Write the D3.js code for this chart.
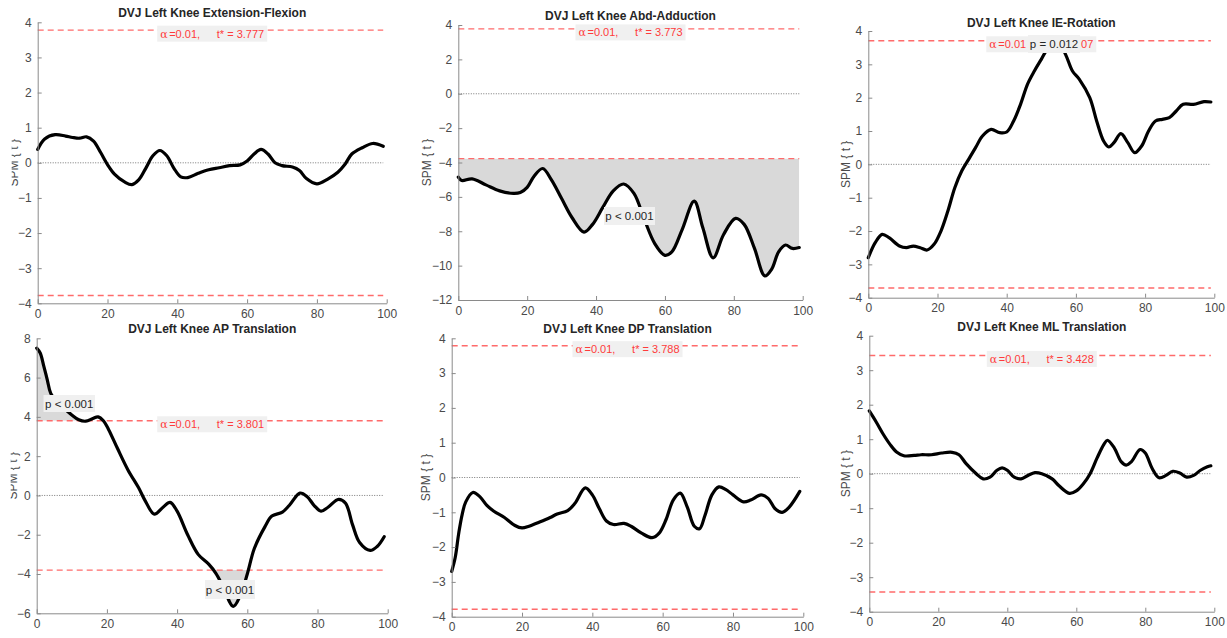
<!DOCTYPE html>
<html><head><meta charset="utf-8">
<script src="https://cdn.jsdelivr.net/npm/d3@7"></script>
<style>body{margin:0;background:#fff}svg{display:block}</style>
</head><body><svg id="c" width="1227" height="638"></svg>
<script>
// ---------- DATA ----------
const titles = ["DVJ Left Knee Extension-Flexion","DVJ Left Knee Abd-Adduction","DVJ Left Knee IE-Rotation",
                "DVJ Left Knee AP Translation","DVJ Left Knee DP Translation","DVJ Left Knee ML Translation"];
const thresholds = [3.777, 3.773, 3.707, 3.801, 3.788, 3.428];
const alphaLevel = "0.01";
const yDomains = [[-4,4],[-12,4],[-4,4],[-6,8],[-4,4],[-4,4]];
const yTicks = [[-4,-3,-2,-1,0,1,2,3,4],[-12,-10,-8,-6,-4,-2,0,2,4],[-4,-3,-2,-1,0,1,2,3,4],
                [-6,-4,-2,0,2,4,6,8],[-4,-3,-2,-1,0,1,2,3,4],[-4,-3,-2,-1,0,1,2,3,4]];
const xTicks = [0,20,40,60,80,100];
const yLabel = "SPM { t }";

const extFlex = [[0,0.38],[2,0.68],[5,0.8],[8,0.76],[10,0.72],[12,0.7],[14,0.74],[16,0.62],[18,0.3],[20,-0.05],[22,-0.32],[25,-0.55],[27,-0.62],[29,-0.48],[31,-0.15],[33,0.2],[35,0.35],[37,0.2],[39,-0.15],[41,-0.4],[43,-0.42],[46,-0.3],[49,-0.2],[52,-0.14],[55,-0.08],[58,-0.06],[60,0.05],[62,0.25],[64,0.38],[66,0.25],[68,0.0],[70,-0.08],[73,-0.12],[75,-0.22],[77,-0.45],[80,-0.6],[83,-0.47],[86,-0.27],[88,-0.05],[90,0.25],[93,0.43],[96,0.55],[99,0.47]];
const abdAdd = [[0,-4.85],[1,-5.05],[4,-4.95],[8,-5.3],[12,-5.65],[16,-5.8],[18,-5.75],[20,-5.45],[22,-4.8],[24.5,-4.35],[27,-5.0],[30,-6.1],[33,-7.2],[36.5,-8.05],[39,-7.6],[42,-6.6],[45,-5.65],[48,-5.25],[51,-5.8],[54,-7.3],[57,-8.7],[60,-9.4],[62,-9.2],[65,-7.9],[68.5,-6.25],[71,-7.8],[74,-9.55],[77,-8.2],[80.5,-7.25],[83,-7.6],[86,-9.0],[89,-10.6],[91,-10.2],[93,-9.2],[95,-8.8],[97,-9.0],[99,-8.95]];
const ieRot = [[0,-2.8],[2,-2.35],[4,-2.1],[6,-2.2],[9,-2.45],[11,-2.5],[13,-2.45],[15,-2.5],[17,-2.57],[19,-2.4],[21,-2.0],[23,-1.4],[25,-0.7],[27,-0.2],[29,0.15],[31,0.5],[33,0.85],[35.5,1.05],[38,0.95],[40,0.97],[42,1.3],[44,1.8],[46,2.4],[48,2.8],[50,3.15],[52,3.5],[54.5,3.75],[57,3.3],[59,2.8],[61,2.55],[64,2.0],[66,1.3],[68,0.7],[69.5,0.52],[71,0.65],[73,0.92],[75,0.65],[77,0.35],[79,0.55],[81,1.0],[83,1.3],[85,1.35],[87,1.4],[89,1.6],[91,1.8],[94,1.8],[97,1.88],[99,1.87]];
const apTrans = [[0,7.5],[1,7.25],[2,6.6],[3,5.9],[4,5.2],[6,4.7],[8,4.4],[10,4.1],[12,3.85],[14,3.78],[16,3.92],[17.5,4.0],[19,3.8],[20.5,3.35],[23,2.4],[26,1.3],[29,0.4],[31,-0.3],[33.5,-0.95],[36,-0.6],[38,-0.35],[40,-0.8],[43,-2.0],[46,-3.0],[49,-3.5],[51,-3.95],[53,-4.6],[56,-5.65],[58,-5.1],[60,-4.0],[62,-2.7],[65,-1.6],[67,-1.05],[70,-0.85],[72,-0.5],[75,0.12],[77,-0.05],[79,-0.5],[81,-0.8],[83,-0.6],[86,-0.2],[88,-0.4],[90,-1.5],[92,-2.4],[95,-2.8],[97,-2.6],[99,-2.1]];
const dpTrans = [[0,-2.7],[1,-2.3],[2,-1.6],[3,-1.05],[4,-0.7],[6,-0.43],[8,-0.55],[10,-0.8],[12,-0.97],[15,-1.15],[18,-1.38],[20,-1.45],[22,-1.4],[25,-1.28],[28,-1.15],[30,-1.05],[33,-0.95],[35,-0.75],[38,-0.3],[40,-0.5],[42,-0.9],[44,-1.25],[46,-1.35],[49,-1.32],[51,-1.4],[54,-1.6],[57,-1.73],[59,-1.6],[61,-1.2],[63,-0.65],[65,-0.45],[67,-0.85],[69,-1.4],[70.5,-1.47],[72,-1.1],[74,-0.5],[76,-0.27],[78,-0.35],[80,-0.5],[83,-0.7],[85,-0.65],[88,-0.5],[90,-0.6],[92,-0.9],[94,-1.0],[96,-0.85],[99,-0.4]];
const mlTrans = [[0,1.82],[2,1.5],[4,1.15],[6,0.85],[8,0.62],[10,0.52],[13,0.53],[15,0.55],[18,0.55],[21,0.6],[24,0.62],[26,0.55],[28,0.3],[31,0.0],[33,-0.15],[35,-0.1],[37,0.1],[38.5,0.17],[40,0.1],[42,-0.1],[44,-0.15],[46,-0.05],[48,0.03],[50,0.0],[53,-0.15],[55,-0.35],[58,-0.57],[60,-0.5],[62,-0.3],[64,0.0],[66,0.45],[68,0.85],[69,0.97],[71,0.75],[73,0.35],[74.5,0.25],[76,0.35],[78.5,0.7],[80,0.6],[82,0.15],[84,-0.12],[86,-0.05],[88,0.07],[90,0.02],[92,-0.1],[94,-0.05],[96,0.1],[98,0.2],[99,0.23]];
const series = [extFlex, abdAdd, ieRot, apTrans, dpTrans, mlTrans];

// suprathreshold clusters: [start, end, sign, p-label]
const clusters = [[], [[0,99,-1,"p < 0.001"]], [[52,57,1,"p = 0.012"]],
                  [[0,12.6,1,"p < 0.001"],[50.6,60.4,-1,"p < 0.001"]], [], []];

// ---------- LAYOUT ----------
const layout = [
  {x0:37.7, x1:386.7, yT:22.3, yB:303.3, titleY:16.7, labOff:24, clipLab:true},
  {x0:458.3,x1:802.7, yT:25,   yB:300,   titleY:20,   labOff:32, clipLab:false},
  {x0:868.3,x1:1214.3,yT:31,   yB:297.7, titleY:26.7, labOff:23, clipLab:false, covered:true},
  {x0:36.7, x1:387.7, yT:338.3,yB:613.3, titleY:333,  labOff:24, clipLab:true},
  {x0:451.7,x1:803.3, yT:338.3,yB:616.7, titleY:333,  labOff:26, clipLab:false},
  {x0:869.3,x1:1214.3,yT:335.7,yB:611.7, titleY:331,  labOff:24, clipLab:false}
];
// pixel boxes of cluster p-value labels [x, y, w, h]
const pBoxes = [[], [[604,207,51,18]], [[1028,35,52,18]], [[43.5,395,51.5,17],[205,580,50,19]], [], []];

const FONT = "'Liberation Sans', Arial, Helvetica, sans-serif";
const svg = d3.select("#c");
const defs = svg.append("defs");

layout.forEach((L, i) => {
  const x = d3.scaleLinear().domain([0,100]).range([L.x0, L.x1]);
  const y = d3.scaleLinear().domain(yDomains[i]).range([L.yB, L.yT]);
  const g = svg.append("g");
  const data = series[i];
  const thr = thresholds[i];
  const curve = d3.curveCatmullRom.alpha(0.5);
  const xEnd = data[data.length-1][0];

  // shaded clusters
  clusters[i].forEach((c, k) => {
    const id = `cl${i}_${k}`;
    const yThr = y(c[2] * thr);
    const top = c[2] > 0 ? L.yT - 20 : yThr;
    const bot = c[2] > 0 ? yThr : L.yB + 20;
    defs.append("clipPath").attr("id", id).append("rect")
      .attr("x", x(c[0])).attr("width", x(c[1]) - x(c[0]))
      .attr("y", top).attr("height", bot - top);
    g.append("path").datum(data)
      .attr("clip-path", `url(#${id})`)
      .attr("fill", "#d9d9d9")
      .attr("d", d3.area().x(d => x(d[0])).y0(yThr).y1(d => y(d[1])).curve(curve));
  });

  // zero line
  g.append("line").attr("x1", x(0)).attr("x2", x(xEnd)).attr("y1", y(0)).attr("y2", y(0))
    .attr("stroke", "#555").attr("stroke-width", 0.8).attr("stroke-dasharray", "1,1.5");

  // threshold lines
  [thr, -thr].forEach(t => {
    g.append("line").attr("x1", x(0)).attr("x2", x(xEnd)).attr("y1", y(t)).attr("y2", y(t))
      .attr("stroke", "#ff6b6b").attr("stroke-width", 1.4).attr("stroke-dasharray", "6,4");
  });

  // SPM curve
  g.append("path").datum(data).attr("fill", "none").attr("stroke", "#000")
    .attr("stroke-width", 3.2).attr("stroke-linejoin", "round").attr("stroke-linecap", "round")
    .attr("d", d3.line().x(d => x(d[0])).y(d => y(d[1])).curve(curve));

  // axes
  const ya = g.append("g").attr("transform", `translate(${L.x0},0)`)
    .call(d3.axisLeft(y).tickValues(yTicks[i]).tickSizeInner(-4).tickSizeOuter(0).tickPadding(6));
  const xa = g.append("g").attr("transform", `translate(0,${L.yB})`)
    .call(d3.axisBottom(x).tickValues(xTicks).tickSizeInner(-4).tickSizeOuter(0).tickPadding(6));
  [ya, xa].forEach(a => {
    a.select(".domain").attr("stroke", "#8a8a8a").attr("stroke-width", 1);
    a.selectAll(".tick line").attr("stroke", "#8a8a8a");
    a.selectAll(".tick text").attr("fill", "#4a4a4a").style("font-family", FONT).style("font-size", "12px");
  });

  // title
  g.append("text").attr("x", (L.x0 + L.x1) / 2).attr("y", L.titleY).attr("text-anchor", "middle")
    .style("font-family", FONT).style("font-size", "12px").style("font-weight", "bold")
    .attr("fill", "#262626").text(titles[i]);

  // y label
  const lx = L.x0 - L.labOff, ly = (L.yT + L.yB) / 2;
  const lg = g.append("g");
  lg.append("text").attr("transform", `translate(${lx},${ly}) rotate(-90)`)
    .attr("text-anchor", "middle").attr("dy", "0.35em")
    .style("font-family", FONT).style("font-size", "12px").attr("fill", "#4a4a4a")
    .text(yLabel);
  if (L.clipLab) {
    const cid = `lab${i}`;
    defs.append("clipPath").attr("id", cid).append("rect")
      .attr("x", lx - 2).attr("y", ly - 60).attr("width", 20).attr("height", 120);
    lg.attr("clip-path", `url(#${cid})`);
  }

  // alpha / t* label
  const bw = 110, bh = 16;
  const bx = (L.x0 + L.x1) / 2 - bw / 2, by = y(thr) - 4.5;
  g.append("rect").attr("x", bx).attr("y", by).attr("width", bw).attr("height", bh).attr("fill", "#f0f0f0");
  const tg = g.append("g").style("font-family", FONT).style("font-size", "11px").attr("fill", "#ff3b3b");
  tg.append("text").attr("x", bx + 3).attr("y", by + 12).style("font-family", "'DejaVu Serif', serif")
    .style("font-size", "11px").text("α");
  const tStr = "t* = " + thr.toFixed(3);
  if (L.covered) {
    // partly hidden behind the cluster p-value box: only the visible pieces are drawn
    tg.append("text").attr("x", bx + 12).attr("y", by + 12).text("=" + alphaLevel);
    tg.append("text").attr("x", bx + bw - 3).attr("y", by + 12).attr("text-anchor", "end")
      .text(tStr.slice(-2));
  } else {
    tg.append("text").attr("x", bx + 12).attr("y", by + 12).text("=" + alphaLevel + ",");
    tg.append("text").attr("x", bx + bw - 3).attr("y", by + 12).attr("text-anchor", "end").text(tStr);
  }

  // cluster p labels
  clusters[i].forEach((c, k) => {
    const b = pBoxes[i][k];
    g.append("rect").attr("x", b[0]).attr("y", b[1]).attr("width", b[2]).attr("height", b[3]).attr("fill", "#f0f0f0");
    g.append("text").attr("x", b[0] + b[2] / 2).attr("y", b[1] + b[3] / 2).attr("dy", "0.36em")
      .attr("text-anchor", "middle").style("font-family", FONT).style("font-size", "11.5px")
      .attr("fill", "#262626").text(c[3]);
  });
});
</script></body></html>
